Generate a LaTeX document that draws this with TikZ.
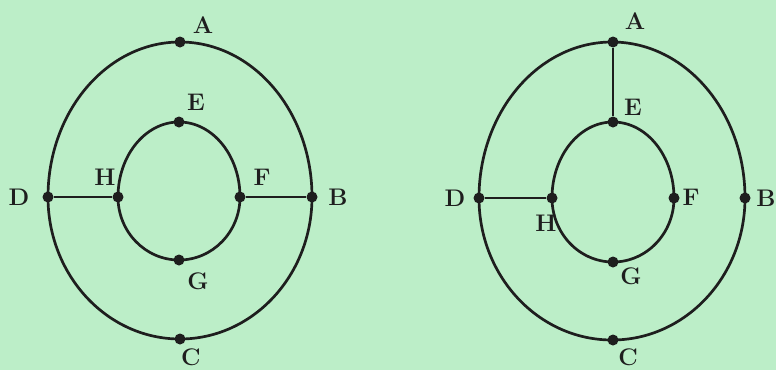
\documentclass[tikz,border=0pt]{standalone}
\usepackage{xcolor}
\definecolor{bggreen}{RGB}{188,238,200}
\definecolor{ink}{RGB}{30,30,30}
\begin{document}
\begin{tikzpicture}[x=1pt,y=-1pt,
  dot/.style={circle,fill=ink,inner sep=0pt,minimum size=11pt},
  edge/.style={draw=ink,line width=2.7pt},
  lab/.style={text=ink,font=\fontsize{24}{27}\selectfont\bfseries,inner sep=0pt}]
\fill[bggreen] (0,0) rectangle (776,370);
\useasboundingbox (0,0) rectangle (776,370);
% ---------- left graph ----------
\node[dot] (lA) at (180,42) {};
\node[dot] (lB) at (312,197) {};
\node[dot] (lC) at (180,339) {};
\node[dot] (lD) at (48,197) {};
\node[dot] (lE) at (179,122) {};
\node[dot] (lF) at (240,197) {};
\node[dot] (lG) at (179,260) {};
\node[dot] (lH) at (118,197) {};
\draw[edge] (lD.center) arc[start angle=180,end angle=360,x radius=132,y radius=155];
\draw[edge] (lB.center) arc[start angle=0,end angle=180,x radius=132,y radius=142];
\draw[edge] (lH.center) arc[start angle=180,end angle=360,x radius=61,y radius=75];
\draw[edge] (lF.center) arc[start angle=0,end angle=180,x radius=61,y radius=63];
\draw[edge] (lD) -- (lH);
\draw[edge] (lF) -- (lB);
\node[lab] at (203,25) {A};
\node[lab] at (196,102) {E};
\node[lab] at (105,177) {H};
\node[lab] at (262,177) {F};
\node[lab] at (19,197) {D};
\node[lab] at (338,197) {B};
\node[lab] at (198,281) {G};
\node[lab] at (191,357) {C};
% ---------- right graph ----------
\node[dot] (rA) at (613,42) {};
\node[dot] (rB) at (745,198) {};
\node[dot] (rC) at (613,340) {};
\node[dot] (rD) at (479,198) {};
\node[dot] (rE) at (613,122) {};
\node[dot] (rF) at (674,198) {};
\node[dot] (rG) at (613,262) {};
\node[dot] (rH) at (552,198) {};
\draw[edge] (rD.center) arc[start angle=180,end angle=360,x radius=133,y radius=156];
\draw[edge] (rB.center) arc[start angle=0,end angle=180,x radius=133,y radius=142];
\draw[edge] (rH.center) arc[start angle=180,end angle=360,x radius=61,y radius=76];
\draw[edge] (rF.center) arc[start angle=0,end angle=180,x radius=61,y radius=64];
\draw[edge] (rA) -- (rE);
\draw[edge] (rD) -- (rH);
\node[lab] at (635,21) {A};
\node[lab] at (633,107) {E};
\node[lab] at (455,198) {D};
\node[lab] at (766,198) {B};
\node[lab] at (691,197) {F};
\node[lab] at (546,223) {H};
\node[lab] at (631,276) {G};
\node[lab] at (628,357) {C};
\end{tikzpicture}
\end{document}
